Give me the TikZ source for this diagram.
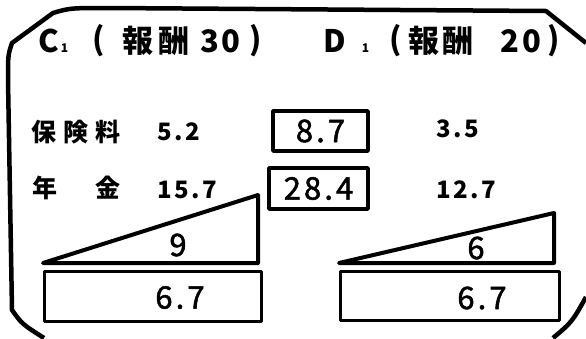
\documentclass[tikz,border=0pt]{standalone}
\usepackage{fontspec}
\newfontfamily\jpfont{Noto Sans CJK JP}
\newfontfamily\numfont[LetterSpace=10]{Noto Sans CJK JP}
\newfontfamily\boxfont[LetterSpace=10, FakeBold=1.6]{Noto Sans CJK JP}
\usetikzlibrary{positioning}

\begin{document}
\begin{tikzpicture}[x=1pt, y=-1pt, line join=round,
  titlechar/.style={font=\jpfont\bfseries\fontsize{31}{31}\selectfont, inner sep=0pt},
  subchar/.style={font=\jpfont\bfseries\fontsize{12}{12}\selectfont, inner sep=0pt},
  rowlabel/.style={font=\jpfont\bfseries\fontsize{25}{25}\selectfont, inner sep=0pt},
  rownum/.style={font=\numfont\bfseries\fontsize{24}{24}\selectfont, inner sep=0pt, anchor=west},
  bignum/.style={font=\boxfont\fontsize{31}{31}\selectfont, inner sep=0pt},
  valbox/.style={draw, line width=3.5pt, inner sep=0pt, font=\boxfont\fontsize{31}{31}\selectfont}]

\useasboundingbox (0,0) rectangle (586,338);

% Frame
\draw[line width=4.5pt] (44,338) .. controls (22,324) .. (12,310) -- (8,80) .. controls (8,55) .. (12,43)
  -- (53,13) .. controls (70,8) .. (110,8) -- (546,11) -- (586,43);
\draw[line width=4.5pt] (553,338) .. controls (572,322) .. (586,297);

% Titles
\foreach \ch/\x [count=\i] in {C/48.5, {(}/98.5, 報/138, 酬/174, 3/209.5, 0/231, {)}/256}
  \node[titlechar] (ctitle\i) at (\x,41) {\ch};
\node[subchar] (csub) at (64.5,48.5) {1};
\foreach \ch/\x [count=\i] in {D/335, {(}/396, 報/424, 酬/457.5, 2/510, 0/531.5, {)}/554}
  \node[titlechar] (dtitle\i) at (\x,41) {\ch};
\node[subchar] (dsub) at (365.5,48.5) {1};

% Row labels
\foreach \ch/\x [count=\i] in {保/44, 険/76, 料/108}
  \node[rowlabel] (hoken\i) at (\x,132) {\ch};
\node[rowlabel] (nen) at (45,188) {年};
\node[rowlabel] (kin) at (107.5,188) {金};

% Row values
\node[rownum] (choken) at (157,131.5) {5.2};
\node[rownum] (cnenkin) at (157,190) {15.7};
\node[rownum] (dhoken) at (436,128.5) {3.5};
\node[rownum] (dnenkin) at (436,190) {12.7};

% Totals
\node[valbox, minimum width=95pt, minimum height=40pt] (hokensum) at (320.5,131) {8.7};
\node[valbox, minimum width=99pt, minimum height=41pt] (nenkinsum) at (318.5,188.5) {28.4};

% Triangles
\draw[line width=4pt] (43,263) -- (258,195) -- (258,263) -- cycle;
\node[bignum] (ctri) at (178,245) {9};
\draw[line width=4pt] (339,263) -- (554,213) -- (554,263) -- cycle;
\node[bignum] (dtri) at (476,248) {6};

% Bottom boxes
\node[valbox, minimum width=217pt, minimum height=50pt] (cbox) at (153,296.5) {};
\node[bignum] (cboxval) at (180,297.5) {6.7};
\node[valbox, minimum width=219pt, minimum height=49pt] (dbox) at (450,296) {};
\node[bignum] (dboxval) at (482,298) {6.7};

\end{tikzpicture}
\end{document}
